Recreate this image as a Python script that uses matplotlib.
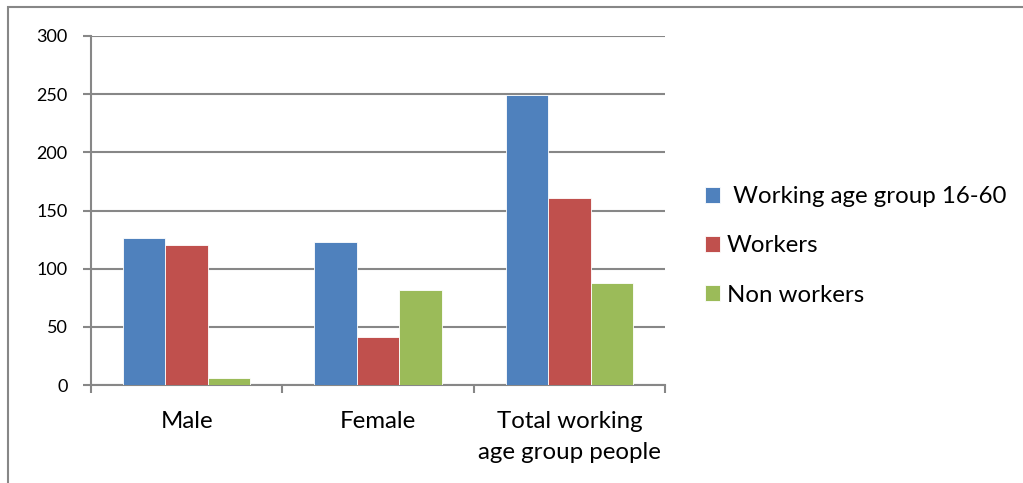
import matplotlib.pyplot as plt
import numpy as np
from matplotlib.patches import Rectangle

# Данни, разчетени от графиката
categories = ["Male", "Female", "Total working\nage group people"]
series_names = [" Working age group 16-60", "Workers", "Non workers"]
working_age = [126, 123, 249]
workers = [120, 41, 161]
non_workers = [6, 82, 88]
y_ticks = [0, 50, 100, 150, 200, 250, 300]

colors = ["#4F81BD", "#C0504D", "#9BBB59"]
grid_color = "#878787"

plt.rcParams["font.family"] = ["Lato", "DejaVu Sans"]

fig = plt.figure(figsize=(10.23, 4.83), dpi=100)
ax = fig.add_axes([91 / 1023, 1 - 385 / 483, (665 - 91) / 1023, (385 - 36) / 483])

x = np.arange(len(categories))
width = 1 / 4.5
for i, (vals, name) in enumerate(zip([working_age, workers, non_workers], series_names)):
    ax.bar(x + (i - 1) * width, vals, width, color=colors[i], label=name,
           edgecolor="white", linewidth=0.6, zorder=3)

ax.set_xlim(-0.5, 2.5)
ax.set_ylim(0, 300)
ax.set_yticks(y_ticks)
ax.yaxis.grid(True, color=grid_color, linewidth=1.5, zorder=0)
ax.set_axisbelow(True)

# Главни деления по границите на категориите, надписи в средата
ax.set_xticks([-0.5, 0.5, 1.5, 2.5])
ax.set_xticklabels([])
ax.set_xticks(x, minor=True)
ax.set_xticklabels(categories, minor=True, fontsize=17.3, linespacing=1.6)
ax.tick_params(axis="x", which="minor", length=0, pad=18.5)
ax.tick_params(axis="x", which="major", length=6, width=1.5, color=grid_color)
ax.tick_params(axis="y", length=6, width=1.5, color=grid_color, labelsize=13, pad=11)

for side in ["top", "right"]:
    ax.spines[side].set_visible(False)
for side in ["left", "bottom"]:
    ax.spines[side].set_color(grid_color)
    ax.spines[side].set_linewidth(1.5)

ax.legend(loc="center left", bbox_to_anchor=(705 / 1023, 1 - 246 / 483),
          bbox_transform=fig.transFigure, frameon=False, fontsize=17.3,
          handlelength=0.62, handleheight=0.62, handletextpad=0.3, labelspacing=1.17,
          borderaxespad=0, borderpad=0)

# Рамка около цялата фигура
fig.patches.append(Rectangle((8 / 1023, -0.1), 1.2, 1 - 7 / 483 + 0.1,
                             transform=fig.transFigure, fill=False,
                             edgecolor=grid_color, linewidth=1.5))

fig.savefig("out.png", dpi=100)
